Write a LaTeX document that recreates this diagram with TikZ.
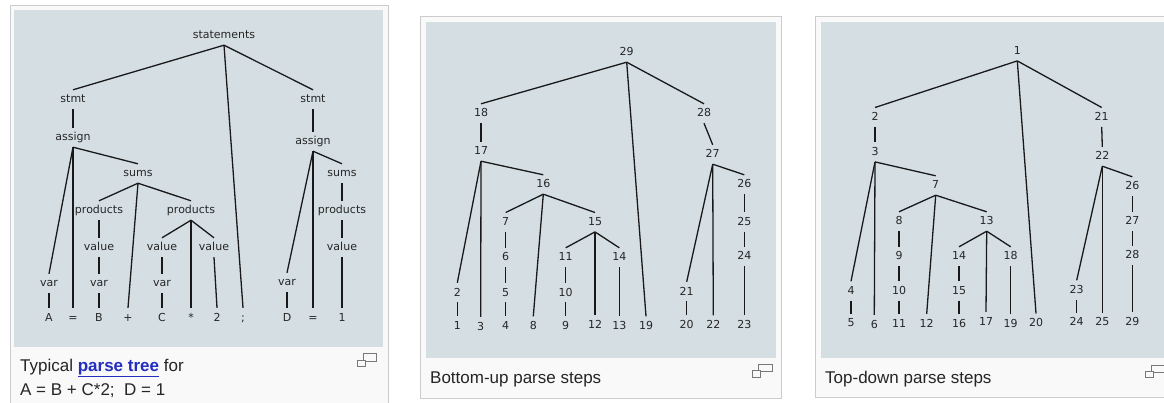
\documentclass[tikz,border=0pt]{standalone}
\usepackage{fontspec}
\setmainfont{Liberation Sans}
\newfontfamily\treefont{DejaVu Sans}
\definecolor{panelbg}{RGB}{213,223,227}
\definecolor{framebg}{RGB}{249,249,249}
\definecolor{framecol}{RGB}{204,204,204}
\definecolor{treetext}{RGB}{38,38,38}
\definecolor{treeline}{RGB}{25,25,25}
\definecolor{captext}{RGB}{37,37,37}
\definecolor{linkblue}{RGB}{35,45,190}
\definecolor{iconcol}{RGB}{120,120,120}
\begin{document}
\begin{tikzpicture}[x=1pt,y=-1pt,
  lbl/.style={font=\treefont\fontsize{11}{13}\selectfont, text=treetext, anchor=base, yshift=-4pt,
              inner xsep=1pt, inner ysep=3pt, text height=10pt, text depth=3pt},
  conn/.style={draw=treeline, line width=1.3pt},
  panelframe/.style={draw=framecol, fill=framebg, line width=0.8pt},
  innerbg/.style={fill=panelbg},
  captxt/.style={font=\fontsize{17}{22}\selectfont, text=captext, anchor=base west, inner sep=0pt},
  iconbox/.style={draw=iconcol, line width=1pt}]
\useasboundingbox (0,0) rectangle (1164,403);
\clip (0,0) rectangle (1164,403);
\fill[white] (0,0) rectangle (1164,403);

% ---------- frames ----------
\path[panelframe] (10.5,5.5) rectangle (388.5,420);
\path[innerbg] (14,10) rectangle (383,347);
\path[panelframe] (420.5,16.5) rectangle (781,398);
\path[innerbg] (426,22) rectangle (776,358);
\path[panelframe] (815.5,16.5) rectangle (1180,397.5);
\path[innerbg] (821,22) rectangle (1180,358);

% ---------- icons ----------
\draw[iconbox] (363,353) rectangle (376,361);
\draw[iconbox, fill=framebg] (357,360) rectangle (365,366);
\draw[iconbox] (758,364) rectangle (772,371);
\draw[iconbox, fill=framebg] (752,370) rectangle (760,377);
\draw[iconbox] (1151,365) rectangle (1165,372);
\draw[iconbox, fill=framebg] (1145,371) rectangle (1153,377);

% ---------- captions ----------
\node[captxt] (cap1a) at (20,371) {Typical \textcolor{linkblue}{\bfseries\underline{parse tree}} for};
\node[captxt] (cap1b) at (20,395.5) {A = B + C*2;\ \ D = 1};
\node[captxt] (cap2) at (430,383.5) {Bottom-up parse steps};
\node[captxt] (cap3) at (825,383.5) {Top-down parse steps};

% ---------- panel 1: parse tree ----------
\node[lbl] (stmts) at (224,35) {statements};
\node[lbl] (stmtL) at (73,99) {stmt};
\node[lbl] (stmtR) at (313,99) {stmt};
\node[lbl] (asgL) at (73,137) {assign};
\node[lbl] (asgR) at (313,141) {assign};
\node[lbl] (sumsL) at (138,173) {sums};
\node[lbl] (sumsR) at (342,173) {sums};
\node[lbl] (prodA) at (99,210) {products};
\node[lbl] (prodB) at (191,210) {products};
\node[lbl] (prodC) at (342,210) {products};
\node[lbl] (valA) at (99,247) {value};
\node[lbl] (valC) at (162,247) {value};
\node[lbl] (valT) at (214,247) {value};
\node[lbl] (valR) at (342,247) {value};
\node[lbl] (varA) at (49,283) {var};
\node[lbl] (varB) at (99,283) {var};
\node[lbl] (varC) at (162,283) {var};
\node[lbl] (varD) at (287,282) {var};
\node[lbl] (tA) at (49,317) {A};
\node[lbl] (tEqA) at (73,317) {=};
\node[lbl] (tB) at (99,317) {B};
\node[lbl] (tPlus) at (128,317) {+};
\node[lbl] (tC) at (162,317) {C};
\node[lbl] (tStar) at (191,317) {*};
\node[lbl] (tTwo) at (217,317) {2};
\node[lbl] (tSemi) at (243,317) {;};
\node[lbl] (tD) at (287,317) {D};
\node[lbl] (tEqB) at (313,317) {=};
\node[lbl] (tOne) at (342,317) {1};

\draw[conn] (stmts.south) -- (stmtL.north);
\draw[conn] (stmts.south) -- (tSemi.north);
\draw[conn] (stmts.south) -- (stmtR.north);
\draw[conn] (stmtL.south) -- (asgL.north);
\draw[conn] (asgL.south) -- (varA.north);
\draw[conn] (asgL.south) -- (tEqA.north);
\draw[conn] (asgL.south) -- (sumsL.north);
\draw[conn] (varA.south) -- (tA.north);
\draw[conn] (sumsL.south) -- (prodA.north);
\draw[conn] (sumsL.south) -- (tPlus.north);
\draw[conn] (sumsL.south) -- (prodB.north);
\draw[conn] (prodA.south) -- (valA.north);
\draw[conn] (valA.south) -- (varB.north);
\draw[conn] (varB.south) -- (tB.north);
\draw[conn] (prodB.south) -- (valC.north);
\draw[conn] (prodB.south) -- (tStar.north);
\draw[conn] (prodB.south) -- (valT.north);
\draw[conn] (valC.south) -- (varC.north);
\draw[conn] (varC.south) -- (tC.north);
\draw[conn] (valT.south) -- (tTwo.north);
\draw[conn] (stmtR.south) -- (asgR.north);
\draw[conn] (asgR.south) -- (varD.north);
\draw[conn] (asgR.south) -- (tEqB.north);
\draw[conn] (asgR.south) -- (sumsR.north);
\draw[conn] (varD.south) -- (tD.north);
\draw[conn] (sumsR.south) -- (prodC.north);
\draw[conn] (prodC.south) -- (valR.north);
\draw[conn] (valR.south) -- (tOne.north);

% ---------- panel 2: bottom-up ----------
\node[lbl] (b29) at (626.7,52) {29};
\node[lbl] (b18) at (481,113) {18};
\node[lbl] (b28) at (704,113) {28};
\node[lbl] (b17) at (481,151) {17};
\node[lbl] (b27) at (712.7,154) {27};
\node[lbl] (b16) at (543.3,184) {16};
\node[lbl] (b26) at (744.3,184) {26};
\node[lbl] (b7) at (505.7,221.7) {7};
\node[lbl] (b15) at (595,221.7) {15};
\node[lbl] (b25) at (744.3,221.7) {25};
\node[lbl] (b6) at (505.7,257) {6};
\node[lbl] (b11) at (565.7,257) {11};
\node[lbl] (b14) at (619.3,257) {14};
\node[lbl] (b24) at (744.3,256) {24};
\node[lbl] (b2) at (457.3,292) {2};
\node[lbl] (b5) at (505.7,292) {5};
\node[lbl] (b10) at (565.7,292) {10};
\node[lbl] (b21) at (686.7,291) {21};
\node[lbl] (b1) at (457.3,325.5) {1};
\node[lbl] (b3) at (480.7,326) {3};
\node[lbl] (b4) at (505.7,325.5) {4};
\node[lbl] (b8) at (533.3,325.5) {8};
\node[lbl] (b9) at (565.7,325.5) {9};
\node[lbl] (b12) at (595,324.5) {12};
\node[lbl] (b13) at (619.3,325.5) {13};
\node[lbl] (b19) at (646,325.5) {19};
\node[lbl] (b20) at (686.7,324.5) {20};
\node[lbl] (b22) at (713.3,324.5) {22};
\node[lbl] (b23) at (744.3,324.5) {23};

\draw[conn] (b29.south) -- (b18.north);
\draw[conn] (b29.south) -- (b19.north);
\draw[conn] (b29.south) -- (b28.north);
\draw[conn] (b18.south) -- (b17.north);
\draw[conn] (b17.south) -- (b2.north);
\draw[conn] (b17.south) -- (b3.north);
\draw[conn] (b17.south) -- (b16.north);
\draw[conn] (b2.south) -- (b1.north);
\draw[conn] (b16.south) -- (b7.north);
\draw[conn] (b16.south) -- (b8.north);
\draw[conn] (b16.south) -- (b15.north);
\draw[conn] (b7.south) -- (b6.north);
\draw[conn] (b6.south) -- (b5.north);
\draw[conn] (b5.south) -- (b4.north);
\draw[conn] (b15.south) -- (b11.north);
\draw[conn] (b15.south) -- (b12.north);
\draw[conn] (b15.south) -- (b14.north);
\draw[conn] (b11.south) -- (b10.north);
\draw[conn] (b10.south) -- (b9.north);
\draw[conn] (b14.south) -- (b13.north);
\draw[conn] (b28.south) -- (b27.north);
\draw[conn] (b27.south) -- (b21.north);
\draw[conn] (b27.south) -- (b22.north);
\draw[conn] (b27.south) -- (b26.north);
\draw[conn] (b21.south) -- (b20.north);
\draw[conn] (b26.south) -- (b25.north);
\draw[conn] (b25.south) -- (b24.north);
\draw[conn] (b24.south) -- (b23.north);

% ---------- panel 3: top-down ----------
\node[lbl] (c1) at (1017.3,50.7) {1};
\node[lbl] (c2) at (875,116.7) {2};
\node[lbl] (c21) at (1101.7,116.7) {21};
\node[lbl] (c3) at (875,151.7) {3};
\node[lbl] (c22) at (1102.3,156) {22};
\node[lbl] (c7) at (935.7,185) {7};
\node[lbl] (c26) at (1132.3,186) {26};
\node[lbl] (c8) at (899,221) {8};
\node[lbl] (c13) at (986.7,221) {13};
\node[lbl] (c27) at (1132.3,221) {27};
\node[lbl] (c9) at (899,256) {9};
\node[lbl] (c14) at (959,256) {14};
\node[lbl] (c18) at (1010.7,256) {18};
\node[lbl] (c28) at (1132.3,255) {28};
\node[lbl] (c4) at (851,290.5) {4};
\node[lbl] (c10) at (899,290.5) {10};
\node[lbl] (c15) at (959,290.5) {15};
\node[lbl] (c23) at (1076.7,289.5) {23};
\node[lbl] (c5) at (851,322.7) {5};
\node[lbl] (c6) at (874.3,324) {6};
\node[lbl] (c11) at (899,323) {11};
\node[lbl] (c12) at (926.7,323) {12};
\node[lbl] (c16) at (959,323) {16};
\node[lbl] (c17) at (986,321) {17};
\node[lbl] (c19) at (1010.7,323) {19};
\node[lbl] (c20) at (1036,322.7) {20};
\node[lbl] (c24) at (1076.7,321.7) {24};
\node[lbl] (c25) at (1102.3,321.7) {25};
\node[lbl] (c29) at (1132.3,321.5) {29};

\draw[conn] (c1.south) -- (c2.north);
\draw[conn] (c1.south) -- (c20.north);
\draw[conn] (c1.south) -- (c21.north);
\draw[conn] (c2.south) -- (c3.north);
\draw[conn] (c3.south) -- (c4.north);
\draw[conn] (c3.south) -- (c6.north);
\draw[conn] (c3.south) -- (c7.north);
\draw[conn] (c4.south) -- (c5.north);
\draw[conn] (c7.south) -- (c8.north);
\draw[conn] (c7.south) -- (c12.north);
\draw[conn] (c7.south) -- (c13.north);
\draw[conn] (c8.south) -- (c9.north);
\draw[conn] (c9.south) -- (c10.north);
\draw[conn] (c10.south) -- (c11.north);
\draw[conn] (c13.south) -- (c14.north);
\draw[conn] (c13.south) -- (c17.north);
\draw[conn] (c13.south) -- (c18.north);
\draw[conn] (c14.south) -- (c15.north);
\draw[conn] (c15.south) -- (c16.north);
\draw[conn] (c18.south) -- (c19.north);
\draw[conn] (c21.south) -- (c22.north);
\draw[conn] (c22.south) -- (c23.north);
\draw[conn] (c22.south) -- (c25.north);
\draw[conn] (c22.south) -- (c26.north);
\draw[conn] (c23.south) -- (c24.north);
\draw[conn] (c26.south) -- (c27.north);
\draw[conn] (c27.south) -- (c28.north);
\draw[conn] (c28.south) -- (c29.north);
\end{tikzpicture}
\end{document}
